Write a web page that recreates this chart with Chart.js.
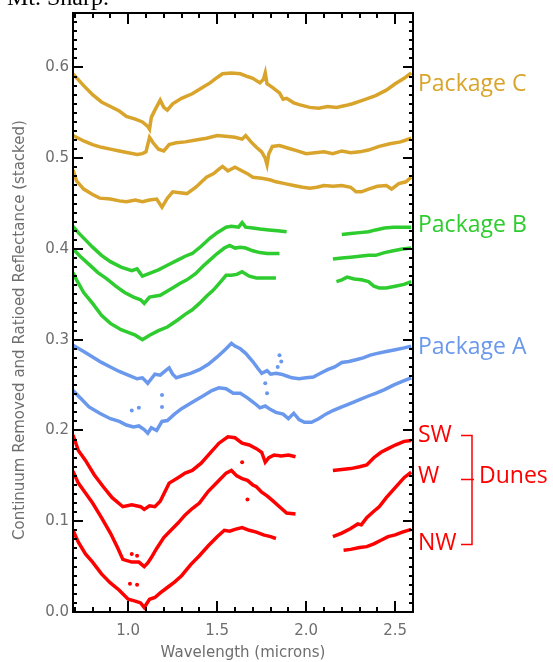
<!DOCTYPE html>
<html>
<head>
<meta charset="utf-8">
<script src="https://cdn.jsdelivr.net/npm/chart.js@4.4.1/dist/chart.umd.min.js"></script>
<style>
  body { margin: 0; background: #fff; }
  canvas { display: block; }
</style>
</head>
<body>
<canvas id="myChart" width="553" height="662"></canvas>
<script>
// tick labels
const xTickValues = [1.0, 1.5, 2.0, 2.5];
const yTickValues = [0.0, 0.1, 0.2, 0.3, 0.4, 0.5, 0.6];

// Package C (gold)
const pkgC1Wl = [0.69,0.75,0.80,0.85,0.90,0.95,0.99,1.04,1.08,1.11,1.12,1.13,1.15,1.18,1.20,1.22,1.25,1.30,1.36,1.41,1.46,1.50,1.53,1.58,1.63,1.67,1.70,1.74,1.76,1.77,1.78,1.81,1.85,1.87,1.89,1.93,1.96,2.02,2.07,2.12,2.17,2.22,2.26,2.32,2.39,2.45,2.50,2.55,2.59];
const pkgC1 = [0.593,0.580,0.570,0.562,0.557,0.552,0.546,0.543,0.540,0.535,0.532,0.545,0.553,0.564,0.556,0.553,0.560,0.566,0.571,0.577,0.583,0.589,0.593,0.594,0.593,0.590,0.588,0.583,0.587,0.594,0.582,0.578,0.572,0.565,0.566,0.561,0.559,0.556,0.555,0.557,0.556,0.558,0.560,0.564,0.569,0.575,0.582,0.588,0.594];
const pkgC2Wl = [0.69,0.75,0.80,0.85,0.90,0.95,1.00,1.05,1.08,1.10,1.12,1.14,1.17,1.20,1.23,1.27,1.32,1.38,1.44,1.50,1.56,1.60,1.64,1.66,1.69,1.72,1.75,1.77,1.78,1.79,1.81,1.85,1.90,1.95,2.00,2.05,2.10,2.15,2.20,2.25,2.30,2.35,2.41,2.47,2.53,2.59];
const pkgC2 = [0.525,0.519,0.515,0.512,0.510,0.508,0.506,0.504,0.505,0.507,0.523,0.517,0.510,0.508,0.515,0.517,0.518,0.520,0.522,0.525,0.524,0.523,0.521,0.525,0.518,0.512,0.507,0.500,0.493,0.505,0.513,0.514,0.511,0.508,0.505,0.506,0.507,0.505,0.508,0.506,0.507,0.509,0.513,0.516,0.518,0.522];
const pkgC3Wl = [0.69,0.71,0.75,0.80,0.84,0.90,0.95,0.99,1.04,1.08,1.12,1.16,1.19,1.22,1.25,1.29,1.33,1.38,1.44,1.48,1.51,1.53,1.56,1.60,1.63,1.67,1.70,1.75,1.80,1.83,1.88,1.93,1.98,2.02,2.06,2.10,2.15,2.20,2.25,2.28,2.31,2.35,2.40,2.45,2.48,2.52,2.56,2.59];
const pkgC3 = [0.487,0.475,0.466,0.460,0.456,0.455,0.453,0.452,0.454,0.452,0.454,0.455,0.446,0.456,0.463,0.462,0.461,0.468,0.479,0.483,0.488,0.491,0.486,0.490,0.487,0.483,0.479,0.478,0.476,0.474,0.472,0.470,0.468,0.467,0.468,0.470,0.469,0.470,0.468,0.463,0.463,0.466,0.469,0.470,0.466,0.472,0.474,0.479];

// Package B (green), null = no data
const pkgB1Wl = [0.69,0.72,0.76,0.80,0.85,0.90,0.96,1.02,1.05,1.08,1.12,1.17,1.22,1.28,1.32,1.36,1.41,1.46,1.50,1.55,1.58,1.62,1.64,1.66,1.70,1.74,1.79,1.84,1.89,1.90,2.20,2.25,2.30,2.35,2.39,2.44,2.49,2.54,2.59];
const pkgB1 = [0.425,0.418,0.410,0.402,0.393,0.386,0.380,0.376,0.378,0.370,0.373,0.377,0.382,0.388,0.392,0.395,0.403,0.412,0.418,0.424,0.425,0.424,0.429,0.424,0.423,0.422,0.421,0.420,0.419,null,0.416,0.417,0.418,0.419,0.421,0.423,0.424,0.424,0.424];
const pkgB2Wl = [0.69,0.73,0.78,0.83,0.88,0.93,0.98,1.03,1.07,1.09,1.12,1.18,1.24,1.29,1.33,1.38,1.42,1.46,1.50,1.54,1.57,1.60,1.63,1.66,1.70,1.74,1.78,1.82,1.85,1.86,2.15,2.20,2.25,2.30,2.35,2.39,2.44,2.49,2.54,2.59];
const pkgB2 = [0.400,0.392,0.383,0.374,0.367,0.359,0.352,0.347,0.344,0.340,0.347,0.349,0.356,0.362,0.366,0.373,0.381,0.388,0.395,0.401,0.404,0.401,0.402,0.401,0.398,0.396,0.395,0.395,0.395,null,0.389,0.390,0.391,0.392,0.393,0.393,0.396,0.398,0.400,0.401];
const pkgB3Wl = [0.69,0.71,0.75,0.80,0.85,0.90,0.96,1.00,1.04,1.08,1.12,1.17,1.22,1.28,1.32,1.36,1.40,1.44,1.48,1.52,1.55,1.58,1.61,1.64,1.68,1.72,1.76,1.80,1.83,1.84,2.17,2.20,2.23,2.27,2.31,2.35,2.38,2.41,2.45,2.50,2.55,2.59];
const pkgB3 = [0.374,0.366,0.352,0.340,0.327,0.318,0.311,0.308,0.305,0.300,0.305,0.310,0.314,0.322,0.328,0.333,0.340,0.348,0.355,0.364,0.371,0.371,0.372,0.375,0.370,0.368,0.368,0.368,0.368,null,0.364,0.366,0.369,0.367,0.366,0.364,0.359,0.357,0.357,0.359,0.361,0.364];

// Package A (blue)
const pkgA1Wl = [0.69,0.75,0.80,0.85,0.90,0.95,1.00,1.05,1.08,1.11,1.13,1.15,1.18,1.21,1.23,1.25,1.27,1.30,1.35,1.40,1.45,1.50,1.55,1.58,1.60,1.63,1.66,1.70,1.73,1.75,1.78,1.80,1.83,1.86,1.89,1.92,1.96,2.00,2.04,2.08,2.12,2.16,2.20,2.24,2.28,2.32,2.36,2.40,2.45,2.50,2.55,2.59];
const pkgA1 = [0.294,0.287,0.281,0.275,0.270,0.265,0.261,0.257,0.258,0.252,0.257,0.262,0.261,0.266,0.269,0.262,0.258,0.260,0.263,0.267,0.273,0.281,0.290,0.296,0.293,0.290,0.285,0.276,0.268,0.263,0.266,0.262,0.263,0.262,0.260,0.258,0.257,0.258,0.259,0.263,0.267,0.270,0.275,0.276,0.278,0.280,0.283,0.285,0.287,0.289,0.291,0.293];
const pkgA2Wl = [0.69,0.73,0.78,0.84,0.90,0.95,0.99,1.03,1.06,1.09,1.11,1.13,1.16,1.19,1.22,1.26,1.30,1.36,1.42,1.47,1.51,1.55,1.59,1.63,1.67,1.71,1.74,1.77,1.80,1.83,1.87,1.90,1.93,1.96,1.99,2.03,2.07,2.11,2.15,2.20,2.25,2.30,2.35,2.39,2.44,2.49,2.54,2.59];
const pkgA2 = [0.244,0.236,0.226,0.219,0.213,0.210,0.206,0.204,0.205,0.201,0.197,0.203,0.200,0.210,0.211,0.218,0.224,0.231,0.238,0.244,0.247,0.246,0.241,0.241,0.236,0.230,0.225,0.227,0.223,0.220,0.218,0.213,0.219,0.212,0.209,0.209,0.213,0.218,0.222,0.226,0.230,0.234,0.238,0.241,0.245,0.250,0.254,0.258];
const pkgADotsWl = [1.02,1.06,1.19,1.19,1.77,1.78,1.84,1.85,1.86];
const pkgADots = [0.222,0.225,0.239,0.226,0.252,0.241,0.270,0.283,0.276];

// Dunes (red)
const swWl = [0.69,0.72,0.76,0.81,0.86,0.91,0.97,1.02,1.07,1.09,1.12,1.15,1.18,1.23,1.28,1.32,1.36,1.41,1.46,1.51,1.56,1.60,1.64,1.68,1.72,1.75,1.77,1.79,1.82,1.86,1.90,1.94,1.95,2.15,2.20,2.25,2.30,2.34,2.38,2.42,2.46,2.50,2.55,2.59];
const sw = [0.195,0.178,0.167,0.151,0.138,0.126,0.116,0.118,0.116,0.113,0.117,0.116,0.122,0.142,0.148,0.153,0.156,0.164,0.175,0.186,0.193,0.192,0.186,0.184,0.180,0.176,0.165,0.170,0.173,0.172,0.173,0.171,null,0.156,0.157,0.158,0.160,0.162,0.170,0.176,0.180,0.184,0.188,0.189];
const wWl = [0.69,0.72,0.76,0.80,0.85,0.90,0.94,0.97,1.02,1.06,1.09,1.11,1.13,1.16,1.20,1.24,1.28,1.32,1.36,1.40,1.45,1.50,1.55,1.58,1.61,1.64,1.67,1.70,1.72,1.75,1.78,1.81,1.85,1.89,1.94,1.95,2.15,2.20,2.25,2.29,2.31,2.34,2.38,2.41,2.45,2.50,2.55,2.59];
const w = [0.155,0.142,0.131,0.120,0.104,0.087,0.071,0.058,0.055,0.055,0.050,0.054,0.060,0.070,0.082,0.090,0.098,0.107,0.114,0.120,0.133,0.143,0.153,0.156,0.150,0.147,0.145,0.140,0.138,0.132,0.128,0.123,0.116,0.109,0.108,null,0.083,0.087,0.092,0.097,0.096,0.104,0.111,0.116,0.126,0.137,0.148,0.154];
const nwWl = [0.69,0.72,0.76,0.80,0.85,0.90,0.95,1.00,1.04,1.07,1.09,1.12,1.15,1.18,1.22,1.26,1.30,1.35,1.40,1.45,1.50,1.54,1.57,1.60,1.64,1.68,1.72,1.76,1.80,1.83,1.84,2.21,2.25,2.30,2.34,2.38,2.42,2.46,2.50,2.54,2.59];
const nw = [0.090,0.077,0.064,0.055,0.042,0.032,0.024,0.014,0.012,0.010,0.005,0.014,0.016,0.021,0.027,0.033,0.040,0.052,0.062,0.073,0.083,0.090,0.089,0.091,0.093,0.090,0.088,0.085,0.083,0.081,null,0.068,0.069,0.071,0.072,0.075,0.079,0.083,0.085,0.088,0.091];
const dunesDotsWl = [1.02,1.05,1.01,1.05,1.64,1.67];
const dunesDots = [0.064,0.062,0.031,0.030,0.165,0.124];

const GOLD = '#d9a42b';
const GREEN = '#2ecc2e';
const BLUE = '#6a98ec';
const RED = '#ff0000';

function pts(xs, ys) {
    return xs.map((x, i) => ({x: x, y: ys[i]}));
}

function line(xs, ys, color) {
    return {
        data: pts(xs, ys),
        borderColor: color,
        borderWidth: 3.5,
        pointRadius: 0,
        spanGaps: false,
        tension: 0
    };
}

function dots(xs, ys, color) {
    return {
        data: pts(xs, ys),
        showLine: false,
        pointRadius: 2,
        pointBackgroundColor: color,
        pointBorderWidth: 0
    };
}

// inward IDL style ticks on all four sides, plus frame and side labels
const idlFrame = {
    id: 'idlFrame',
    afterDraw(chart) {
        const ctx = chart.ctx;
        const a = chart.chartArea;
        const x = chart.scales.x;
        const y = chart.scales.y;
        ctx.save();
        ctx.strokeStyle = '#000';
        ctx.lineWidth = 2;
        ctx.beginPath();
        for (let i = 7; i <= 26; i++) {
            const px = Math.round(x.getPixelForValue(i / 10));
            const len = (i % 5 === 0) ? 11 : 5;
            ctx.moveTo(px, a.bottom); ctx.lineTo(px, a.bottom - len);
            ctx.moveTo(px, a.top); ctx.lineTo(px, a.top + len);
        }
        for (let i = 1; i <= 66; i++) {
            const py = Math.round(y.getPixelForValue(i / 100));
            const len = (i % 10 === 0) ? 10 : 4;
            ctx.moveTo(a.left, py); ctx.lineTo(a.left + len, py);
            ctx.moveTo(a.right, py); ctx.lineTo(a.right - len, py);
        }
        ctx.stroke();
        ctx.lineWidth = 2;
        ctx.strokeRect(a.left, a.top, a.right - a.left, a.bottom - a.top);

        // y axis title
        ctx.fillStyle = '#6e6e6e';
        ctx.font = '15px "DejaVu Sans"';
        ctx.textAlign = 'center';
        ctx.textBaseline = 'middle';
        ctx.translate(20, 330);
        ctx.rotate(-Math.PI / 2);
        ctx.fillText('Continuum Removed and Ratioed Reflectance (stacked)', 0, 0);
        ctx.restore();

        ctx.save();
        // caption remnant at top
        ctx.fillStyle = '#000';
        ctx.font = '24px "Liberation Serif"';
        ctx.textAlign = 'left';
        ctx.textBaseline = 'alphabetic';
        ctx.fillText('Mt. Sharp.', 7, 5);

        // series labels on the right
        ctx.font = '23px "Open Sans"';
        ctx.textBaseline = 'middle';
        const lx = a.right + 5;
        const labels = [
            ['Package C', GOLD, 0.581],
            ['Package B', GREEN, 0.426],
            ['Package A', BLUE, 0.291],
            ['SW', RED, 0.194],
            ['W', RED, 0.149],
            ['NW', RED, 0.075]
        ];
        for (const [t, c, v] of labels) {
            ctx.fillStyle = c;
            ctx.fillText(t, lx, y.getPixelForValue(v));
        }
        ctx.fillStyle = RED;
        ctx.fillText('Dunes', 479, y.getPixelForValue(0.149));

        // bracket
        const ySW = Math.round(y.getPixelForValue(0.195)) + 0.5;
        const yW = Math.round(y.getPixelForValue(0.147)) + 0.5;
        const yNW = Math.round(y.getPixelForValue(0.075)) + 0.5;
        ctx.strokeStyle = RED;
        ctx.lineWidth = 1.5;
        ctx.beginPath();
        ctx.moveTo(461, ySW); ctx.lineTo(472, ySW); ctx.lineTo(472, yNW); ctx.lineTo(461, yNW);
        ctx.moveTo(461, yW); ctx.lineTo(474, yW);
        ctx.stroke();
        ctx.restore();
    }
};

const config = {
    type: 'line',
    data: {
        datasets: [
            line(pkgC1Wl, pkgC1, GOLD),
            line(pkgC2Wl, pkgC2, GOLD),
            line(pkgC3Wl, pkgC3, GOLD),
            line(pkgB1Wl, pkgB1, GREEN),
            line(pkgB2Wl, pkgB2, GREEN),
            line(pkgB3Wl, pkgB3, GREEN),
            line(pkgA1Wl, pkgA1, BLUE),
            line(pkgA2Wl, pkgA2, BLUE),
            dots(pkgADotsWl, pkgADots, BLUE),
            line(swWl, sw, RED),
            line(wWl, w, RED),
            line(nwWl, nw, RED),
            dots(dunesDotsWl, dunesDots, RED)
        ]
    },
    options: {
        responsive: false,
        animation: false,
        layout: { padding: { left: 0, right: 140, top: 12, bottom: 0 } },
        plugins: { legend: { display: false }, tooltip: { enabled: false } },
        scales: {
            x: {
                type: 'linear',
                min: 0.69,
                max: 2.6,
                afterFit(s) { s.height = 50; },
                afterBuildTicks(s) { s.ticks = xTickValues.map(v => ({value: v})); },
                grid: { display: false, drawTicks: false },
                border: { display: false },
                ticks: {
                    padding: 10,
                    color: '#6e6e6e',
                    font: { family: 'DejaVu Sans', size: 15 },
                    callback: v => v.toFixed(1)
                },
                title: {
                    display: true,
                    text: 'Wavelength (microns)',
                    color: '#6e6e6e',
                    font: { family: 'DejaVu Sans', size: 15 },
                    padding: { top: 0, bottom: 0 }
                }
            },
            y: {
                type: 'linear',
                min: 0,
                max: 0.66,
                afterFit(s) { s.width = 73; },
                afterBuildTicks(s) { s.ticks = yTickValues.map(v => ({value: v})); },
                grid: { display: false, drawTicks: false },
                border: { display: false },
                ticks: {
                    padding: 4,
                    color: '#6e6e6e',
                    font: { family: 'DejaVu Sans', size: 15 },
                    callback: v => v.toFixed(1)
                }
            }
        }
    },
    plugins: [idlFrame]
};

new Chart(document.getElementById('myChart'), config);
</script>
</body>
</html>
